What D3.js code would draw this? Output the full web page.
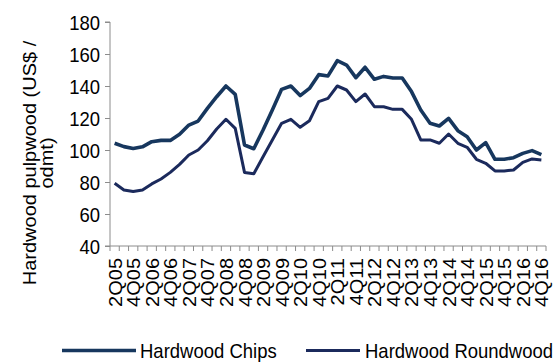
<!DOCTYPE html>
<html><head><meta charset="utf-8">
<script src="https://cdn.jsdelivr.net/npm/d3@7"></script>
<style>
html,body{margin:0;padding:0;background:#fff;}
text{font-family:"Liberation Sans",Arial,sans-serif;fill:#000;}
</style></head>
<body><svg id="c" width="557" height="363"></svg>
<script>
const quarters = ["2Q05","3Q05","4Q05","1Q06","2Q06","3Q06","4Q06","1Q07","2Q07","3Q07","4Q07","1Q08","2Q08","3Q08","4Q08","1Q09","2Q09","3Q09","4Q09","1Q10","2Q10","3Q10","4Q10","1Q11","2Q11","3Q11","4Q11","1Q12","2Q12","3Q12","4Q12","1Q13","2Q13","3Q13","4Q13","1Q14","2Q14","3Q14","4Q14","1Q15","2Q15","3Q15","4Q15","1Q16","2Q16","3Q16","4Q16"];
const chips = [104.2,102.1,101,102,105.2,106,106,109.8,115.6,118.1,126,133.3,140,134.8,103.1,100.8,112.5,125,137.9,140,134,138.5,147.1,146.3,155.8,153.1,145.2,151.7,144.2,146,145,145,136.5,125,116.7,115,119.8,112.1,108.3,100,104.6,94.2,94.2,95.2,97.9,99.6,97.1];
const roundwood = [79.2,75,74,75,78.8,81.9,86,91,96.9,100,105.8,113.1,119.2,113.5,86,85.2,95.8,106.3,116.7,119.2,114.2,118.3,130.2,132.3,140,137.5,130.2,135,127.1,127,125.4,125.4,119.2,106.3,106.3,104.2,110,104.2,101.7,94.2,91.7,86.9,86.9,87.5,92.3,94.4,93.8];
const yTicks = [40,60,80,100,120,140,160,180];
const seriesNames = ["Hardwood Chips","Hardwood Roundwood"];
const yTitle = ["Hardwood pulpwood (US$ /","odmt)"];

const svg = d3.select("#c");
const L = 110, R = 546, T = 22, B = 246;
const x = d3.scaleBand().domain(quarters).range([L, R]);
const y = d3.scaleLinear().domain([40, 180]).range([B, T]);
const cx = q => x(q) + x.bandwidth() / 2;
const axisColor = "#8c8c8c";
const sx = 0.925;

// y axis
const ya = svg.append("g").attr("transform", `translate(${L},0)`)
  .call(d3.axisLeft(y).tickValues(yTicks).tickSize(5).tickFormat(d3.format("d")));
ya.select(".domain").attr("stroke", axisColor).attr("d", `M-5,${B}H0V${T}H-5`);
ya.selectAll(".tick line").attr("stroke", axisColor);
ya.selectAll(".tick text").each(function(d){
  d3.select(this).attr("x", null).attr("dy", null).attr("font-size", 20)
    .attr("text-anchor", "end")
    .attr("transform", `translate(-10,7) scale(${sx},1)`);
});

// x axis
const xa = svg.append("g").attr("transform", `translate(0,${B})`)
  .call(d3.axisBottom(x).tickSize(0).tickFormat(""));
xa.select(".domain").attr("stroke", axisColor).attr("d", `M${L},0H${R}`);
xa.selectAll(".tick").remove();
const bounds = quarters.map(q => x(q)).concat([R]);
xa.selectAll("line.qt").data(bounds).enter().append("line")
  .attr("x1", d => d).attr("x2", d => d).attr("y1", 0).attr("y2", 5)
  .attr("stroke", axisColor);
const labQ = quarters.filter((q, i) => i % 2 === 0);
svg.append("g").selectAll("text").data(labQ).enter().append("text")
  .attr("transform", d => `translate(${cx(d) + 7},258) scale(${sx},1) rotate(-90)`)
  .attr("text-anchor", "end").attr("font-size", 20).text(d => d);

// lines
const line = d3.line().x((d, i) => cx(quarters[i])).y(d => y(d));
svg.append("path").datum(roundwood).attr("d", line).attr("fill", "none")
  .attr("stroke", "#1b2a5c").attr("stroke-width", 3).attr("stroke-linejoin", "round");
svg.append("path").datum(chips).attr("d", line).attr("fill", "none")
  .attr("stroke", "#17375e").attr("stroke-width", 3.6).attr("stroke-linejoin", "round");

// y title
const yt = svg.append("text").attr("font-size", 20).attr("text-anchor", "middle")
  .attr("transform", `translate(36,163) scale(${sx},1) rotate(-90)`);
yt.append("tspan").attr("x", 0).attr("y", 0).text(yTitle[0]);
yt.append("tspan").attr("x", 0).attr("y", 18).text(yTitle[1]);

// legend
const leg = [{x1: 62, x2: 136, tx: 140, c: "#17375e", w: 3.6}, {x1: 306, x2: 360, tx: 365, c: "#1b2a5c", w: 3}];
leg.forEach((l, i) => {
  svg.append("line").attr("x1", l.x1).attr("x2", l.x2).attr("y1", 350.5).attr("y2", 350.5)
    .attr("stroke", l.c).attr("stroke-width", l.w);
  svg.append("text").attr("font-size", 20)
    .attr("transform", `translate(${l.tx},357.5) scale(${sx},1)`).text(seriesNames[i]);
});
</script></body></html>
